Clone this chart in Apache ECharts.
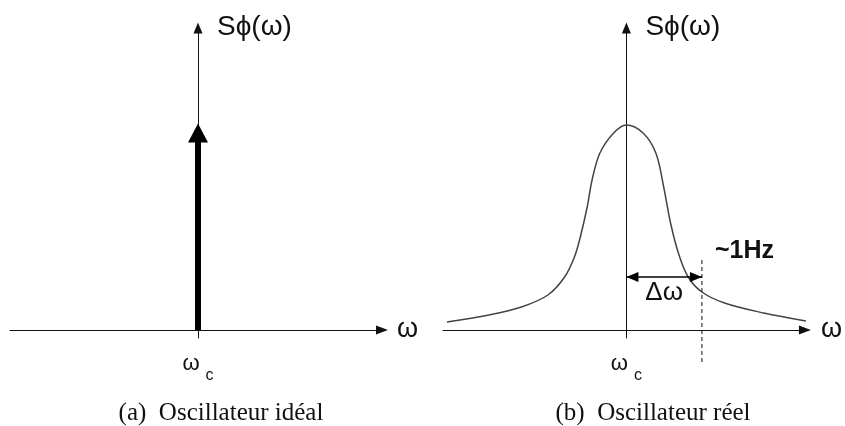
<!DOCTYPE html>
<html>
<head>
<meta charset="utf-8">
<script src="https://cdn.jsdelivr.net/npm/echarts@6/dist/echarts.min.js"></script>
<style>
  html, body { margin: 0; padding: 0; background: #fff; }
  #chart { width: 845px; height: 426px; }
</style>
</head>
<body>
<div id="chart"></div>
<script>
// (a) spectre idéal : une raie en ωc (hauteur jusqu'au centre de la flèche)
const impulseX = [0, 0];
const impulseY = [0, 197];
// (b) spectre réel, abscisse = ω - ωc
const curveX = [-183, -140, -107, -80, -63, -53, -47, -40, -35, -27, -13, 0, 17, 30, 38, 45, 53, 63, 77, 100, 140, 183];
const curveY = [8, 15, 23, 35, 53, 73, 93, 123, 150, 177, 197, 205, 197, 177, 143, 107, 77, 53, 38, 27, 17, 9];
// largeur Δω et repère ~1Hz
const deltaX = [0, 77];
const deltaY = 53;
const markerX = 77;
const markerY = [-32, 72];
// textes
const tickLabel = ['ω', 'c'];
const axisNameX = 'ω';
const axisNameY = 'Sϕ(ω)';
const captions = ['(a)  Oscillateur idéal', '(b)  Oscillateur réel'];

const font = '"Liberation Sans", Arial, sans-serif';
const ink = '#111';

let Chart = echarts.init(document.getElementById('chart'), null, { renderer: 'canvas' });

function makeX(idx, min, max, gap) {
  return {
    type: 'value',
    gridIndex: idx,
    min: min,
    max: max,
    splitLine: { show: false },
    axisTick: { show: false },
    axisLine: {
      onZero: true,
      symbol: ['none', 'triangle'],
      symbolSize: [9, 12],
      lineStyle: { color: ink, width: 1 }
    },
    axisLabel: {
      customValues: [0],
      margin: 6,
      formatter: function () {
        return '{w|' + tickLabel[0] + '}{c|' + tickLabel[1] + '}';
      },
      rich: {
        w: { fontFamily: font, fontSize: 22, color: ink },
        c: { fontFamily: font, fontSize: 16, color: ink, padding: [24, 0, 0, 6] }
      }
    },
    name: axisNameX,
    nameLocation: 'end',
    nameGap: gap,
    nameTextStyle: { fontFamily: font, fontSize: 27, color: ink }
  };
}

function makeY(idx) {
  return {
    type: 'value',
    gridIndex: idx,
    min: -8,
    max: 302,
    splitLine: { show: false },
    axisTick: { show: false },
    axisLabel: { show: false },
    axisLine: {
      onZero: true,
      symbol: ['none', 'triangle'],
      symbolSize: [9, 11],
      lineStyle: { color: ink, width: 1 }
    },
    name: axisNameY,
    nameLocation: 'end',
    nameGap: 1,
    nameTextStyle: {
      fontFamily: font, fontSize: 28, color: ink,
      align: 'left', verticalAlign: 'middle', padding: [0, 0, 0, 19]
    }
  };
}

var option = {
  animation: false,
  grid: [
    { left: 10, right: 463, top: 28, bottom: 88 },
    { left: 443, right: 33, top: 28, bottom: 88 }
  ],
  xAxis: [makeX(0, -188, 184, 15), makeX(1, -187, 182, 16)],
  yAxis: [makeY(0), makeY(1)],
  series: [
    { // raie idéale
      type: 'line',
      xAxisIndex: 0,
      yAxisIndex: 0,
      symbol: 'none',
      lineStyle: { color: '#000', width: 6 },
      itemStyle: { color: '#000' },
      data: [
        [impulseX[0], impulseY[0]],
        { value: [impulseX[1], impulseY[1]], symbol: 'triangle', symbolSize: [20, 19] }
      ]
    },
    { // spectre réel
      type: 'line',
      xAxisIndex: 1,
      yAxisIndex: 1,
      symbol: 'none',
      smooth: 0.35,
      lineStyle: { color: '#444', width: 1.5 },
      data: curveX.map(function (x, i) { return [x, curveY[i]]; }),
      markLine: {
        silent: true,
        symbol: ['triangle', 'triangle'],
        symbolSize: [10, 12],
        symbolOffset: [[0, '50%'], [0, '50%']],
        lineStyle: { color: '#000', width: 1.5, type: 'solid' },
        label: {
          show: true,
          position: 'insideMiddleBottom',
          distance: 3,
          formatter: 'Δω',
          fontFamily: font,
          fontSize: 26,
          color: ink
        },
        data: [[{ coord: [deltaX[0], deltaY] }, { coord: [deltaX[1], deltaY] }]]
      }
    },
    { // repère ~1Hz
      type: 'line',
      xAxisIndex: 1,
      yAxisIndex: 1,
      symbol: 'none',
      clip: false,
      lineStyle: { color: ink, width: 1, type: [4, 3] },
      data: markerY.map(function (y) { return [markerX, y]; }),
      endLabel: {
        show: true,
        formatter: '~1Hz',
        distance: 13,
        offset: [0, -7],
        fontFamily: font,
        fontSize: 25,
        fontWeight: 'bold',
        color: ink
      }
    }
  ],
  graphic: [
    {
      type: 'text', x: 221, y: 413, silent: true,
      style: { text: captions[0], font: '25px "Liberation Serif", "Times New Roman", serif', fill: ink, align: 'center', verticalAlign: 'middle' }
    },
    {
      type: 'text', x: 653, y: 413, silent: true,
      style: { text: captions[1], font: '25px "Liberation Serif", "Times New Roman", serif', fill: ink, align: 'center', verticalAlign: 'middle' }
    }
  ]
};

Chart.setOption(option);
</script>
</body>
</html>
